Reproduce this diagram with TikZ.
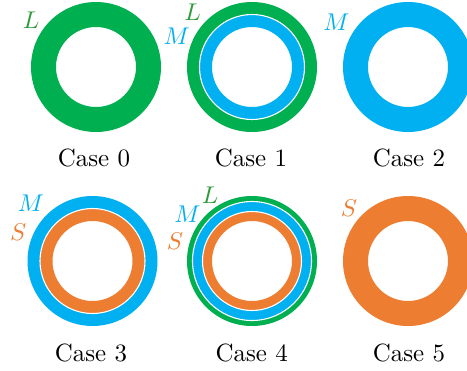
\documentclass[tikz,border=0pt]{standalone}
\usepackage{amsmath}
\usepackage{xcolor}
\usepackage{tikz}
\definecolor{ringgreen}{HTML}{00B050}
\definecolor{ringblue}{HTML}{00B0F0}
\definecolor{ringorange}{HTML}{ED7D31}
\definecolor{taggreen}{HTML}{2E9B3A}

\begin{document}
\begin{tikzpicture}[
    x=0.413pt, y=0.413pt,
    ring/.style={even odd rule},
    gap/.style={draw=white, line width=0.45pt},
    caselabel/.style={font=\fontsize{10.3}{12}\selectfont, inner sep=0pt},
    tag/.style={font=\normalsize, inner sep=0pt}
]
    \useasboundingbox (0,0) rectangle (467,370);

    % Centres
    \coordinate (c0) at (96,303);
    \coordinate (c1) at (252,303);
    \coordinate (c2) at (408,303);
    \coordinate (c3) at (92.5,109);
    \coordinate (c4) at (252,109);
    \coordinate (c5) at (408,109);

    % Case 0
    \fill[ringgreen, ring] (c0) circle (65) (c0) circle (40);
    \node[tag, text=taggreen] (l0) at (31,350) {$L$};
    \node[caselabel] (case0) at (94,212) {Case 0};

    % Case 1
    \fill[ringgreen, ring] (c1) circle (65) (c1) circle (52.5);
    \fill[ringblue, ring] (c1) circle (52.5) (c1) circle (40);
    \draw[gap] (c1) circle (52.5);
    \node[tag, text=taggreen] (l1) at (192.5,357.5) {$L$};
    \node[tag, text=ringblue] (m1) at (176.7,333.3) {$M$};
    \node[caselabel] (case1) at (251,212) {Case 1};

    % Case 2
    \fill[ringblue, ring] (c2) circle (65) (c2) circle (40);
    \node[tag, text=ringblue] (m2) at (336.5,347.5) {$M$};
    \node[caselabel] (case2) at (409,212) {Case 2};

    % Case 3
    \fill[ringblue, ring] (c3) circle (65) (c3) circle (52.5);
    \fill[ringorange, ring] (c3) circle (52.5) (c3) circle (40);
    \draw[gap] (c3) circle (52.5);
    \node[tag, text=ringblue] (m3) at (31,167) {$M$};
    \node[tag, text=ringorange] (s3) at (18.3,138) {$S$};
    \node[caselabel] (case3) at (91,17) {Case 3};

    % Case 4
    \fill[ringgreen, ring] (c4) circle (65) (c4) circle (59.5);
    \fill[ringblue, ring] (c4) circle (59.5) (c4) circle (49.5);
    \fill[ringorange, ring] (c4) circle (49.5) (c4) circle (40);
    \draw[gap] (c4) circle (59.5);
    \draw[gap] (c4) circle (49.5);
    \node[tag, text=taggreen] (l4) at (210,175) {$L$};
    \node[tag, text=ringblue] (m4) at (187.5,156) {$M$};
    \node[tag, text=ringorange] (s4) at (175,129) {$S$};
    \node[caselabel] (case4) at (251.7,17) {Case 4};

    % Case 5
    \fill[ringorange, ring] (c5) circle (65) (c5) circle (40);
    \node[tag, text=ringorange] (s5) at (349,162) {$S$};
    \node[caselabel] (case5) at (409,17) {Case 5};

\end{tikzpicture}
\end{document}
